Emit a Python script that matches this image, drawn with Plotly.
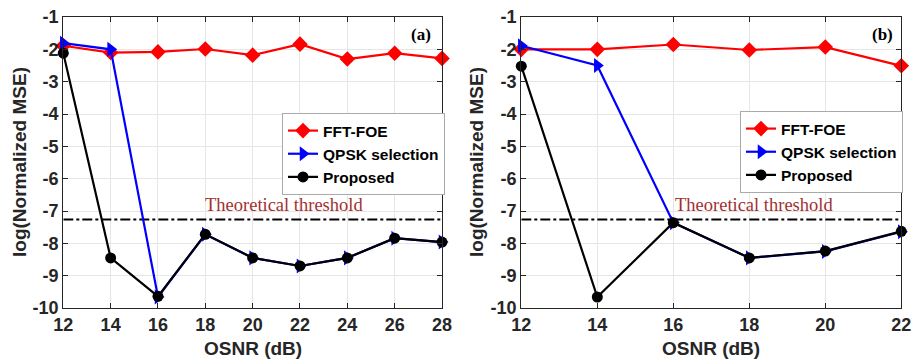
import plotly.graph_objects as go

# ---- data ----
osnr_a = [12, 14, 16, 18, 20, 22, 24, 26, 28]
fft_a = [-1.89, -2.10, -2.08, -1.99, -2.18, -1.84, -2.30, -2.12, -2.28]
qpsk_a = [-1.81, -2.00, -9.66, -7.72, -8.45, -8.70, -8.45, -7.84, -7.96]
prop_a = [-2.12, -8.45, -9.64, -7.72, -8.45, -8.70, -8.45, -7.84, -7.96]

osnr_b = [12, 14, 16, 18, 20, 22]
fft_b = [-2.00, -2.00, -1.85, -2.02, -1.93, -2.51]
qpsk_b = [-1.89, -2.50, -7.36, -8.45, -8.25, -7.64]
prop_b = [-2.52, -9.66, -7.36, -8.45, -8.24, -7.63]

threshold = -7.26
series_names = ["FFT-FOE", "QPSK selection", "Proposed"]
panel_labels = ["(a)", "(b)"]
threshold_label = "Theoretical threshold"
x_title = "OSNR (dB)"
y_title = "log(Normalized MSE)"
y_ticks = [-1, -2, -3, -4, -5, -6, -7, -8, -9, -10]
y_tick_labels = ["-1", "-2", "-3", "-4", "-5", "-6", "-7", "-8", "-9", "-10"]

SANS = "Liberation Sans, Arial, sans-serif"
SERIF = "Liberation Serif, Times New Roman, serif"
BOLD = dict(family=SANS, weight="bold")
colors = ["#ff0000", "#0000ff", "#000000"]
symbols = ["diamond", "triangle-right", "circle"]
sizes = [12, 13, 11]

W, H = 913, 360


def px(x):
    return x / W


def py(y):
    return 1 - y / H


fig = go.Figure()

panels = [
    (osnr_a, [fft_a, qpsk_a, prop_a], "x", "y", "legend", [12, 28]),
    (osnr_b, [fft_b, qpsk_b, prop_b], "x2", "y2", "legend2", [12, 22]),
]

for (xs, ys_list, xa, ya, leg, xr) in panels:
    fig.add_trace(go.Scatter(
        x=xr, y=[threshold, threshold], mode="lines", xaxis=xa, yaxis=ya,
        line=dict(color="black", width=2, dash="10px,3px,3px,3px"),
        showlegend=False, hoverinfo="skip", cliponaxis=False))
    for name, ys, c, s, sz in zip(series_names, ys_list, colors, symbols, sizes):
        fig.add_trace(go.Scatter(
            x=xs, y=ys, name=name, mode="lines+markers", xaxis=xa, yaxis=ya,
            line=dict(color=c, width=2.2),
            marker=dict(symbol=s, size=sz, color=c),
            legend=leg, cliponaxis=False))

axis_common = dict(
    showline=True, linecolor="#262626", linewidth=1.2, mirror="ticks",
    ticks="inside", ticklen=5, tickcolor="#262626",
    showgrid=True, gridcolor="#e6e6e6", gridwidth=1, zeroline=False,
    automargin=False, ticklabeloverflow="allow",
    tickfont=dict(size=18, color="#262626", **BOLD),
)

ydom = [py(308), py(17)]
xdom_a = [px(63.3), px(442)]
xdom_b = [px(521.3), px(901.3)]

legend_common = dict(
    xanchor="left", yanchor="top",
    bgcolor="white", bordercolor="#aaaaaa", borderwidth=1,
    font=dict(size=15.5, color="black", **BOLD),
    itemwidth=30, tracegroupgap=0, traceorder="normal",
)

fig.update_layout(
    width=W, height=H,
    margin=dict(l=0, r=0, t=0, b=0, autoexpand=False),
    paper_bgcolor="white", plot_bgcolor="white",
    xaxis=dict(domain=xdom_a, range=[12, 28], tickvals=list(range(12, 29, 2)), anchor="y", **axis_common),
    yaxis=dict(domain=ydom, range=[-10, -1], tickvals=y_ticks, ticktext=y_tick_labels, anchor="x", **axis_common),
    xaxis2=dict(domain=xdom_b, range=[12, 22], tickvals=list(range(12, 23, 2)), anchor="y2", **axis_common),
    yaxis2=dict(domain=ydom, range=[-10, -1], tickvals=y_ticks, ticktext=y_tick_labels, anchor="x2", **axis_common),
    legend=dict(x=px(282), y=py(113), **legend_common),
    legend2=dict(x=px(740), y=py(111), **legend_common),
    showlegend=True,
)

ANN = dict(showarrow=False, xanchor="center", yanchor="middle")

# axis titles as annotations
for cx in [253, 711]:
    fig.add_annotation(x=px(cx), y=py(348), xref="paper", yref="paper", text="<b>" + x_title + "</b>",
                       font=dict(family=SANS, size=19, color="#262626"), **ANN)
for cx in [20, 477]:
    fig.add_annotation(x=px(cx), y=py(162), xref="paper", yref="paper", text="<b>" + y_title + "</b>",
                       textangle=-90, font=dict(family=SANS, size=19, color="#262626"), **ANN)

# panel labels
for xref, yref, xpos, lab in [("x", "y", 27.1, panel_labels[0]), ("x2", "y2", 21.5, panel_labels[1])]:
    fig.add_annotation(x=xpos, y=-1.55, xref=xref, yref=yref, text="<b>" + lab + "</b>",
                       font=dict(family=SERIF, size=17, color="black"), **ANN)
# threshold labels
fig.add_annotation(x=21.32, y=-6.82, xref="x", yref="y", text=threshold_label,
                   font=dict(family=SERIF, size=18.5, color="#a23030"), **ANN)
fig.add_annotation(x=18.12, y=-6.82, xref="x2", yref="y2", text=threshold_label,
                   font=dict(family=SERIF, size=18.5, color="#a23030"), **ANN)

fig.write_html(
    "out.html",
    config={"displayModeBar": False},
    post_script="document.body.style.margin='0';document.body.style.overflow='hidden';",
)
